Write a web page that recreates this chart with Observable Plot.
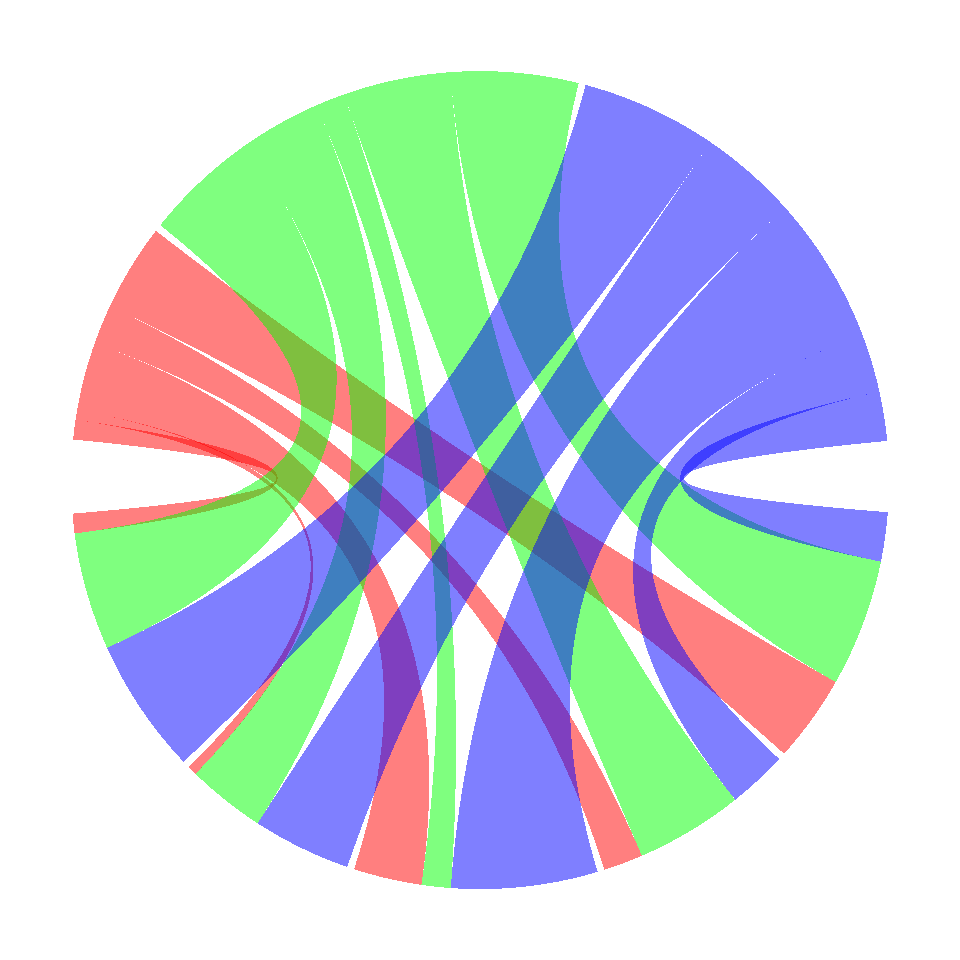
<!DOCTYPE html>
<html>
<head>
<meta charset="utf-8">
<script src="https://cdn.jsdelivr.net/npm/d3@7"></script>
<script src="https://cdn.jsdelivr.net/npm/@observablehq/plot@0.6"></script>
<style>html,body{margin:0;padding:0;background:#fff;overflow:hidden}svg{display:block}</style>
</head>
<body>
<div id="chart"></div>
<script>
// Ribbon widths, in degrees of the circle, towards bottom groups E, D, C, B, A
const targets = ["E", "D", "C", "B", "A"];
const blueValues  = [7.0, 8.4, 20.8, 14.0, 19.35];
const greenValues = [18.1, 15.3, 4.15, 11.15, 16.7];
const redValues   = [12.4, 5.6, 9.7, 1.35, 2.8];
const seriesNames = ["blue", "green", "red"];
const seriesColors = {blue: "#0000ff", green: "#00ff00", red: "#ff0000"};
const startTop = 84.5;     // top half runs counter-clockwise from here
const startBottom = 94.5;  // bottom half runs clockwise from here
const gap = 1;
const radius = 409;
const steps = 80;

const rows = {blue: blueValues, green: greenValues, red: redValues};
const toXY = (a) => { const t = a * Math.PI / 180; return [radius * Math.sin(t), -radius * Math.cos(t)]; };

// Lay the segments out round the circle
const ribbons = [];
let topAngle = startTop;
for (const s of seriesNames) {
  rows[s].forEach((v, j) => { ribbons.push({s, j, s0: topAngle - v, s1: topAngle, v}); topAngle -= v; });
  topAngle -= gap;
}
let bottomAngle = startBottom;
targets.forEach((_, j) => {
  for (const s of seriesNames) {
    const r = ribbons.find((d) => d.s === s && d.j === j);
    r.t0 = bottomAngle; r.t1 = bottomAngle + r.v; bottomAngle += r.v;
  }
  bottomAngle += gap;
});

function outline(r, id) {
  const pts = [];
  const arc = (a0, a1) => { for (let i = 0; i <= steps; i++) pts.push(toXY(a0 + (a1 - a0) * i / steps)); };
  const quad = (a0, a1) => {
    const p = toXY(a0), q = toXY(a1);
    for (let i = 1; i < steps; i++) {
      const u = i / steps, w0 = (1 - u) * (1 - u), w1 = u * u;
      pts.push([w0 * p[0] + w1 * q[0], w0 * p[1] + w1 * q[1]]);
    }
  };
  arc(r.s0, r.s1); quad(r.s1, r.t0); arc(r.t0, r.t1); quad(r.t1, r.s0);
  return pts.map(([x, y]) => ({x, y, id}));
}

const layer = (s) => Plot.line(
  ribbons.filter((r) => r.s === s).flatMap((r) => outline(r, s + r.j)),
  {x: "x", y: "y", z: "id", fill: seriesColors[s], fillOpacity: 0.5, stroke: "none", shapeRendering: "crispEdges"}
);

document.getElementById("chart").append(Plot.plot({
  width: 960, height: 960, margin: 0,
  style: {background: "#fff"},
  x: {domain: [-479.6, 480.4], range: [0, 960], axis: null},
  y: {domain: [-479.6, 480.4], range: [0, 960], axis: null},
  marks: [layer("red"), layer("green"), layer("blue")]
}));
</script>
</body>
</html>
